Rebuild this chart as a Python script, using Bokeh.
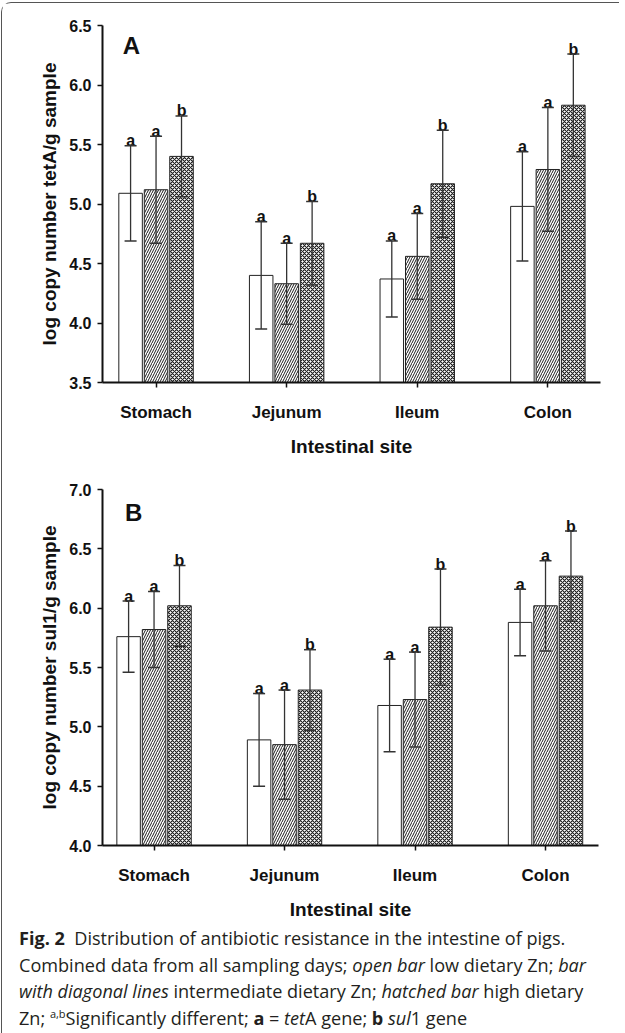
import numpy as np
from bokeh.plotting import figure
from bokeh.models import (ColumnDataSource, Whisker, TeeHead, Range1d, FixedTicker,
                          PrintfTickFormatter, Label, Div)
from bokeh.layouts import column
from bokeh.core.properties import value
from bokeh.embed import file_html
from bokeh.resources import INLINE

# ---------------- data ----------------
sites = ["Stomach", "Jejunum", "Ileum", "Colon"]
groups = ["low", "intermediate", "high"]

# Panel A: log copy number tetA / g sample
tet_low = [5.09, 4.40, 4.37, 4.98]
tet_low_err = [0.40, 0.45, 0.32, 0.46]
tet_mid = [5.12, 4.33, 4.56, 5.29]
tet_mid_err = [0.45, 0.34, 0.36, 0.52]
tet_high = [5.40, 4.67, 5.17, 5.83]
tet_high_err = [0.34, 0.35, 0.45, 0.43]
tet_letters = [["a", "a", "a", "a"], ["a", "a", "a", "a"], ["b", "b", "b", "b"]]
tet_yticks = [3.5, 4.0, 4.5, 5.0, 5.5, 6.0, 6.5]

# Panel B: log copy number sul1 / g sample
sul_low = [5.76, 4.89, 5.18, 5.88]
sul_low_err = [0.30, 0.39, 0.39, 0.28]
sul_mid = [5.82, 4.85, 5.23, 6.02]
sul_mid_err = [0.32, 0.46, 0.40, 0.38]
sul_high = [6.02, 5.31, 5.84, 6.27]
sul_high_err = [0.34, 0.34, 0.49, 0.38]
sul_letters = [["a", "a", "a", "a"], ["a", "a", "a", "a"], ["b", "b", "b", "b"]]
sul_yticks = [4.0, 4.5, 5.0, 5.5, 6.0, 6.5, 7.0]

FONT = "Liberation Sans"
INK = "#111111"
OFFSETS = [-0.195, 0.0, 0.195]
BAR_W = 0.18
STYLES = [dict(hatch_pattern=None),
          dict(hatch_pattern="/", hatch_scale=5, hatch_weight=1),
          dict(hatch_pattern="x", hatch_scale=4, hatch_weight=1.1)]


def make_panel(means, errs, letters, yticks, ylabel, panel_letter, letter_pos,
               xr, frame_w, frame_h, bl, bt, br, bb):
    p = figure(frame_width=frame_w, frame_height=frame_h,
               x_range=Range1d(*xr), y_range=Range1d(yticks[0], yticks[-1]),
               output_backend="svg", toolbar_location=None,
               min_border_left=bl, min_border_top=bt, min_border_right=br,
               min_border_bottom=bb, background_fill_color="white",
               border_fill_color="white")
    p.outline_line_color = None
    p.xgrid.visible = False
    p.ygrid.visible = False

    idx = np.arange(len(sites))
    for g, (m, e, let, off, st) in enumerate(zip(means, errs, letters, OFFSETS, STYLES)):
        m = np.array(m)
        e = np.array(e)
        src = ColumnDataSource(dict(x=idx + off, top=m, upper=m + e, lower=m - e, letter=let))
        kw = dict(x="x", top="top", width=BAR_W, source=src, fill_color="white",
                  line_color="#222222", line_width=1)
        if st["hatch_pattern"]:
            kw.update(hatch_pattern=st["hatch_pattern"], hatch_scale=st["hatch_scale"],
                      hatch_weight=st["hatch_weight"], hatch_color="#1a1a1a")
        p.vbar(**kw)
        w = Whisker(base="x", upper="upper", lower="lower", source=src,
                    line_color="#333333", line_width=1.3, level="overlay",
                    upper_head=TeeHead(size=12, line_color="#333333", line_width=1.5),
                    lower_head=TeeHead(size=12, line_color="#333333", line_width=1.5))
        p.add_layout(w)
        p.text(x="x", y="upper", text="letter", source=src,
               text_font=value(FONT), text_font_style="bold", text_font_size="16px",
               text_color=INK, text_align="center", text_baseline="alphabetic",
               y_offset=-5)

    p.add_layout(Label(x=letter_pos[0], y=letter_pos[1], text=panel_letter,
                       text_font=FONT, text_font_style="bold", text_font_size="24px",
                       text_color=INK, text_baseline="alphabetic", text_align="left"))

    # axes
    for ax in (p.xaxis[0], p.yaxis[0]):
        ax.axis_line_width = 2
        ax.axis_line_color = INK
        ax.major_tick_line_color = INK
        ax.major_tick_line_width = 1.5
        ax.major_tick_in = 0
        ax.major_tick_out = 5
        ax.minor_tick_in = 0
        ax.minor_tick_out = 0
        ax.major_label_text_font = FONT
        ax.major_label_text_font_style = "bold"
        ax.major_label_text_color = INK
        ax.axis_label_text_font = FONT
        ax.axis_label_text_font_style = "bold"
        ax.axis_label_text_font_size = "19px"
        ax.axis_label_text_color = INK

    p.yaxis.ticker = FixedTicker(ticks=yticks)
    p.yaxis.formatter = PrintfTickFormatter(format="%.1f")
    p.yaxis.major_label_text_font_size = "16px"
    p.yaxis.major_label_standoff = 6
    p.yaxis.axis_label = ylabel
    p.yaxis.axis_label_standoff = 6

    p.xaxis.ticker = FixedTicker(ticks=list(idx))
    p.xaxis.major_label_overrides = {int(i): s for i, s in zip(idx, sites)}
    p.xaxis.major_label_text_font_size = "17px"
    p.xaxis.major_label_standoff = 15
    p.xaxis.axis_label = "Intestinal site"
    p.xaxis.axis_label_standoff = 11
    return p


pA = make_panel([tet_low, tet_mid, tet_high], [tet_low_err, tet_mid_err, tet_high_err],
                tet_letters, tet_yticks, "log copy number tetA/g sample", "A",
                (-0.255, 6.33), (-0.41, 3.403), 498, 357, 100, 22, 9, 80)
pB = make_panel([sul_low, sul_mid, sul_high], [sul_low_err, sul_mid_err, sul_high_err],
                sul_letters, sul_yticks, "log copy number sul1/g sample", "B",
                (-0.222, 6.804), (-0.395, 3.406), 496, 356, 93, 27, 18, 63)

caption_html = (
    "<div style=\"font-family:'Open Sans';font-size:18.1px;line-height:26.5px;"
    "color:#231f20;padding-left:12px;margin-top:-2px;white-space:nowrap;\">"
    "<b>Fig.&nbsp;2</b>&nbsp; Distribution of antibiotic resistance in the intestine of pigs.<br>"
    "Combined data from all sampling days; <i>open bar</i> low dietary Zn; <i>bar</i><br>"
    "<i>with diagonal lines</i> intermediate dietary Zn; <i>hatched bar</i> high dietary<br>"
    "Zn; <sup style=\"font-size:11px;line-height:0;vertical-align:7px;\">a,b</sup>Significantly different; "
    "<b>a</b> = <i>tet</i>A gene; <b>b</b> <i>sul</i>1 gene"
    "</div>"
)
caption = Div(text=caption_html, width=607, height=108)

layout = column(pA, pB, caption,
                styles={"border-top": "1px solid #555555", "border-left": "1px solid #555555",
                        "border-top-left-radius": "10px", "margin-top": "2px",
                        "margin-left": "1px"})

open("out.html", "w").write(file_html(layout, INLINE))
